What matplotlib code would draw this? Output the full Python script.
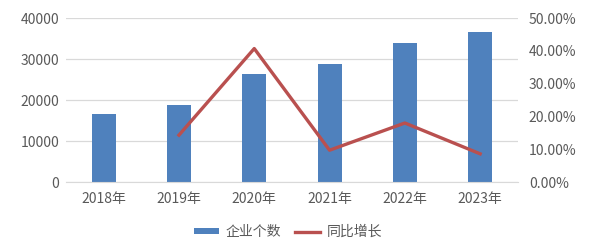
import matplotlib
matplotlib.use("Agg")
from matplotlib import pyplot as plt
from matplotlib.ticker import PercentFormatter

plt.rcParams['font.family'] = ['Noto Sans CJK SC', 'DejaVu Sans']

#Data
years = ['2018年', '2019年', '2020年', '2021年', '2022年', '2023年']
companies = [16500, 18700, 26300, 28800, 33800, 36700]
growth_years = ['2019年', '2020年', '2021年', '2022年', '2023年']
growth = [14.3, 40.7, 9.7, 18.0, 8.6]

bar_color = '#4F81BD'
line_color = '#B9504F'
text_color = '#595959'
grid_color = '#D9D9D9'

fig = plt.figure(figsize=(6, 2.44), dpi=100)
ax = fig.add_axes([0.11, 0.254, 0.753, 0.672])
ax2 = ax.twinx()

xpos = list(range(len(years)))
ax.bar(xpos, companies, width=0.32, color=bar_color, label='企业个数', zorder=2)
gx = [years.index(y) for y in growth_years]
ax2.plot(gx, growth, color=line_color, linewidth=2.4, label='同比增长', zorder=3)

ax.set_xlim(-0.5, len(years) - 0.5)
ax.set_ylim(0, 40000)
ax.set_yticks([0, 10000, 20000, 30000, 40000])
ax2.set_ylim(0, 50)
ax2.set_yticks([0, 10, 20, 30, 40, 50])
ax2.yaxis.set_major_formatter(PercentFormatter(decimals=2))

ax.set_xticks(xpos)
ax.set_xticklabels(years)

ax.grid(axis='y', color=grid_color, linewidth=0.9, zorder=0)
ax.set_axisbelow(True)
for a in (ax, ax2):
    for s in a.spines.values():
        s.set_visible(False)
    a.tick_params(length=0, colors=text_color, labelsize=10)
ax.spines['bottom'].set_visible(True)
ax.spines['bottom'].set_color(grid_color)
ax.tick_params(axis='x', pad=7)
ax.tick_params(axis='y', pad=5)
ax2.tick_params(axis='y', pad=8)

h1, l1 = ax.get_legend_handles_labels()
h2, l2 = ax2.get_legend_handles_labels()
fig.legend(h1 + h2, l1 + l2, loc='center', bbox_to_anchor=(0.48, 0.05), ncol=2,
           frameon=False, fontsize=10, labelcolor=text_color, handlelength=1.8,
           handleheight=0.35, handletextpad=0.5, columnspacing=1.0)

fig.savefig('out.png', dpi=100)
